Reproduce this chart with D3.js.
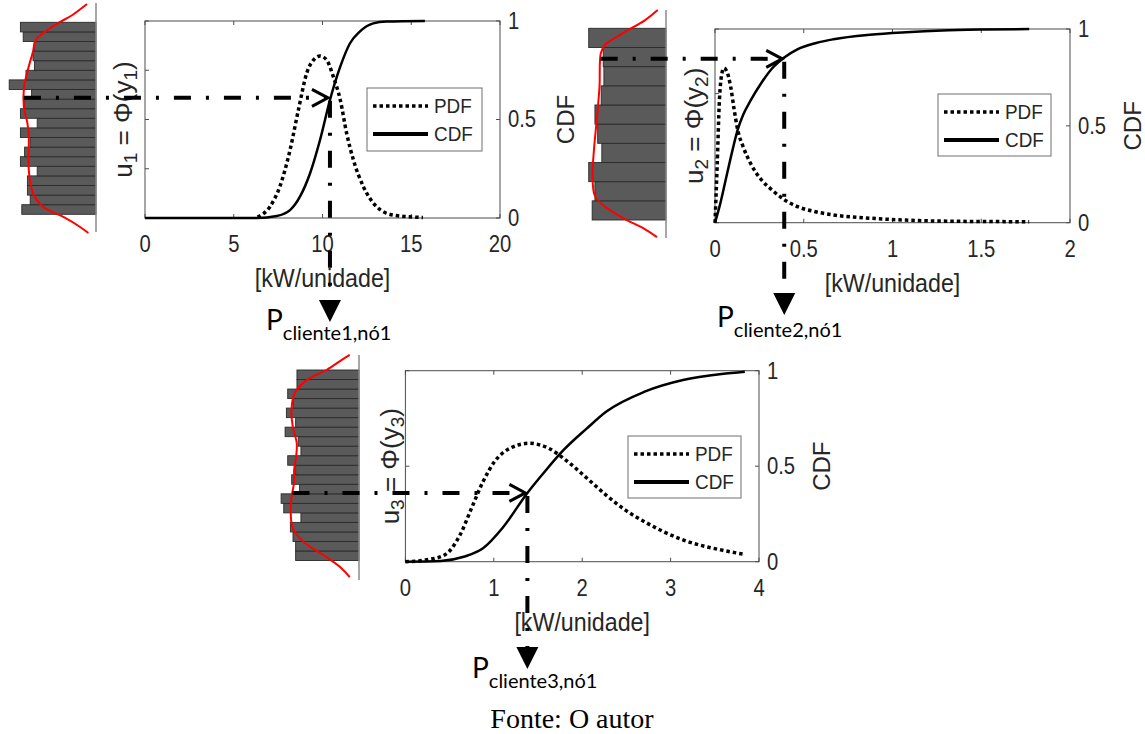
<!DOCTYPE html>
<html>
<head>
<meta charset="utf-8">
<script src="https://cdn.jsdelivr.net/npm/d3@7"></script>
<style>
  body { margin: 0; background: #fff; }
  svg { display: block; }
</style>
</head>
<body>
<svg id="fig" width="1145" height="734"></svg>
<script>
// ---------------- Customer 1 ----------------
const p1XTicks = [0, 5, 10, 15, 20];
const p1CdfX = [0, 6.34, 7.42, 8.17, 8.73, 9.3, 9.86, 10.42, 11.0, 11.55, 12.1, 12.86, 13.6, 15.77];
const p1CdfY = [0, 0, 0.01, 0.04, 0.108, 0.227, 0.396, 0.599, 0.768, 0.887, 0.946, 0.988, 0.997, 1.0];
const p1PdfX = [6.34, 7.04, 7.6, 8.17, 8.64, 9.11, 9.58, 9.86, 10.23, 10.61, 11.0, 11.36, 11.74, 12.3, 13.05, 13.99, 15.66];
const p1PdfY = [0.002, 0.023, 0.064, 0.138, 0.219, 0.294, 0.324, 0.329, 0.321, 0.287, 0.24, 0.172, 0.118, 0.064, 0.023, 0.006, 0.001];
// histogram of u1 (bins from u = 0 up to u = 1)
const p1Hist = [53, 47, 49, 49, 42, 54, 51, 47, 54, 42, 54, 51, 46, 62, 50, 44, 45, 44, 52, 54];
const p1KdeU = [-0.097, -0.066, -0.014, 0.038, 0.111, 0.231, 0.403, 0.475, 0.554, 0.658, 0.743, 0.847, 0.908, 0.96, 1.003, 1.038, 1.095];
const p1KdeD = [0.11, 0.23, 0.47, 0.76, 0.91, 0.97, 0.97, 0.99, 1.04, 1.04, 0.99, 0.91, 0.87, 0.70, 0.51, 0.34, 0.13];
const p1Sample = { u: 0.61, x: 10.42 };

// ---------------- Customer 2 ----------------
const p2XTicks = [0, 0.5, 1, 1.5, 2];
const p2CdfX = [0, 0.03, 0.06, 0.1, 0.128, 0.16, 0.2, 0.26, 0.32, 0.39, 0.464, 0.57, 0.668, 0.873, 1.077, 1.28, 1.5, 1.77];
const p2CdfY = [0, 0.1, 0.22, 0.38, 0.48, 0.56, 0.63, 0.72, 0.795, 0.853, 0.895, 0.928, 0.947, 0.97, 0.983, 0.992, 0.997, 1.0];
const p2PdfX = [0, 0.012, 0.025, 0.036, 0.05, 0.067, 0.088, 0.108, 0.128, 0.158, 0.2, 0.261, 0.322, 0.383, 0.464, 0.566, 0.668, 0.873, 1.077, 1.28, 1.77];
const p2PdfY = [0, 1.74, 3.8, 4.53, 4.79, 4.68, 4.22, 3.5, 2.87, 2.36, 1.84, 1.33, 1.01, 0.74, 0.5, 0.34, 0.24, 0.14, 0.08, 0.05, 0.03];
const p2Hist = [107, 103, 112, 93, 99, 103, 94, 90, 91, 112];
const p2KdeU = [-0.089, -0.042, 0.01, 0.078, 0.13, 0.235, 0.365, 0.522, 0.694, 0.871, 0.913, 0.975, 1.043, 1.095];
const p2KdeD = [0.13, 0.33, 0.62, 0.91, 1.03, 1.06, 1.04, 1.0, 0.96, 0.94, 0.88, 0.62, 0.30, 0.12];
const p2Sample = { u: 0.846, x: 0.39 };

// ---------------- Customer 3 ----------------
const p3XTicks = [0, 1, 2, 3, 4];
const p3CdfX = [0, 0.4, 0.66, 0.878, 1.096, 1.38, 1.575, 1.79, 2.053, 2.27, 2.706, 3.14, 3.576, 3.84];
const p3CdfY = [0, 0.004, 0.026, 0.07, 0.175, 0.36, 0.471, 0.585, 0.698, 0.785, 0.89, 0.951, 0.983, 0.995];
const p3PdfX = [0, 0.226, 0.443, 0.618, 0.748, 0.878, 1.009, 1.183, 1.4, 1.619, 1.836, 2.054, 2.27, 2.489, 2.706, 3.14, 3.576, 3.816];
const p3PdfY = [0, 0.009, 0.035, 0.14, 0.28, 0.419, 0.524, 0.594, 0.62, 0.594, 0.524, 0.437, 0.349, 0.27, 0.209, 0.114, 0.061, 0.04];
const p3Hist = [48, 48, 50, 52, 44, 57, 59, 45, 51, 48, 54, 44, 46, 56, 48, 55, 50, 54, 47, 47];
const p3KdeU = [-0.087, -0.033, 0.029, 0.099, 0.169, 0.239, 0.328, 0.412, 0.475, 0.545, 0.615, 0.702, 0.79, 0.879, 0.947, 1.0, 1.053, 1.079];
const p3KdeD = [0.14, 0.29, 0.54, 0.84, 1.0, 1.03, 1.02, 0.98, 0.98, 0.95, 0.94, 1.0, 1.02, 0.97, 0.79, 0.49, 0.26, 0.14];
const p3Sample = { u: 0.36, x: 1.38 };

const cdfTicks = [0, 0.5, 1];
const legendNames = ['PDF', 'CDF'];

// ---------------- layout ----------------
const panels = [
  {
    xMax: 20, xTicks: p1XTicks, pdfMax: 0.4, pdfTicks: [0, 0.1, 0.2, 0.3, 0.4],
    cdfX: p1CdfX, cdfY: p1CdfY, pdfX: p1PdfX, pdfY: p1PdfY,
    hist: p1Hist, kdeU: p1KdeU, kdeD: p1KdeD, sample: p1Sample, idx: '1',
    box: { l: 145, r: 500, t: 21, b: 218 },
    h: { base: 96, top: 22.3, bottom: 214.3, px: 1.4, lineTop: 3, lineBottom: 232 },
    legend: { x: 367, y: 88, w: 115, h: 63 },
    uLabelX: 123, cdfLabelX: 565, markerTop: 300, pLabel: { x: 266, y: 330 }
  },
  {
    xMax: 2, xTicks: p2XTicks, pdfMax: 6, pdfTicks: [0, 2, 4, 6],
    cdfX: p2CdfX, cdfY: p2CdfY, pdfX: p2PdfX, pdfY: p2PdfY,
    hist: p2Hist, kdeU: p2KdeU, kdeD: p2KdeD, sample: p2Sample, idx: '2',
    box: { l: 715, r: 1070, t: 29, b: 222.7 },
    h: { base: 666, top: 28.3, bottom: 220, px: 0.69, lineTop: 10, lineBottom: 238 },
    legend: { x: 938, y: 94, w: 113, h: 62 },
    uLabelX: 694, cdfLabelX: 1132, markerTop: 293, pLabel: { x: 717, y: 327 }
  },
  {
    xMax: 4, xTicks: p3XTicks, pdfMax: 1, pdfTicks: [0, 0.5, 1],
    cdfX: p3CdfX, cdfY: p3CdfY, pdfX: p3PdfX, pdfY: p3PdfY,
    hist: p3Hist, kdeU: p3KdeU, kdeD: p3KdeD, sample: p3Sample, idx: '3',
    box: { l: 405.4, r: 759, t: 370.7, b: 561.7 },
    h: { base: 359, top: 370, bottom: 560.5, px: 1.32, lineTop: 355, lineBottom: 580 },
    legend: { x: 628, y: 436, w: 113, h: 62 },
    uLabelX: 390, cdfLabelX: 821, markerTop: 647, pLabel: { x: 472, y: 678 }
  }
];

const AXFONT = "'Liberation Sans', Arial, Helvetica, sans-serif";
const svg = d3.select('#fig');
const fmt = d3.format('~g');

// text with a slight horizontal squeeze, as the exported axes fonts are narrow
function label(parent, x, y, str, size, opts = {}) {
  const sx = opts.sx || 1;
  const rot = opts.rotate ? ' rotate(-90)' : '';
  return parent.append('text')
    .attr('transform', `translate(${x},${y})${rot} scale(${sx},1)`)
    .attr('text-anchor', opts.anchor || 'middle')
    .attr('dominant-baseline', 'central')
    .attr('font-family', AXFONT)
    .attr('font-size', size)
    .attr('fill', '#262626')
    .text(str);
}

function drawPanel(p) {
  const g = svg.append('g');
  const { box, h } = p;

  const x = d3.scaleLinear().domain([0, p.xMax]).range([box.l, box.r]);
  const yR = d3.scaleLinear().domain([0, 1]).range([box.b, box.t]);
  const yL = d3.scaleLinear().domain([0, p.pdfMax]).range([box.b, box.t]);

  // ---- histogram of the uniform samples, drawn sideways ----
  const n = p.hist.length;
  const total = d3.sum(p.hist);
  const uScale = d3.scaleLinear().domain([0, 1]).range([h.bottom, h.top]);
  const cScale = d3.scaleLinear().domain([0, 100]).range([h.base, h.base - 100 * h.px]);
  const hg = g.append('g');
  hg.selectAll('rect').data(p.hist).join('rect')
    .attr('x', d => cScale(d))
    .attr('y', (d, i) => uScale((i + 1) / n))
    .attr('width', d => h.base - cScale(d))
    .attr('height', (d, i) => uScale(i / n) - uScale((i + 1) / n))
    .attr('fill', '#5a5a5a')
    .attr('stroke', '#2b2b2b')
    .attr('stroke-width', 0.9);
  hg.append('line')
    .attr('x1', h.base).attr('x2', h.base)
    .attr('y1', h.lineTop).attr('y2', h.lineBottom)
    .attr('stroke', '#8a8a8a').attr('stroke-width', 1.5);
  // kernel density estimate (expected count per bin)
  const kdePts = p.kdeU.map((u, i) => [cScale(p.kdeD[i] * total / n), uScale(u)]);
  hg.append('path')
    .attr('d', d3.line().curve(d3.curveCatmullRom)(kdePts))
    .attr('fill', 'none').attr('stroke', '#ff0000').attr('stroke-width', 2);

  // ---- axes box ----
  g.append('rect')
    .attr('x', box.l).attr('y', box.t)
    .attr('width', box.r - box.l).attr('height', box.b - box.t)
    .attr('fill', 'none').attr('stroke', '#4d4d4d').attr('stroke-width', 1);

  const tickLen = 4;
  const ax = g.append('g').attr('stroke', '#4d4d4d').attr('stroke-width', 1);
  p.xTicks.forEach(t => {
    ax.append('line').attr('x1', x(t)).attr('x2', x(t)).attr('y1', box.b).attr('y2', box.b - tickLen);
    ax.append('line').attr('x1', x(t)).attr('x2', x(t)).attr('y1', box.t).attr('y2', box.t + tickLen);
  });
  cdfTicks.forEach(t => {
    ax.append('line').attr('x1', box.r).attr('x2', box.r - tickLen).attr('y1', yR(t)).attr('y2', yR(t));
  });
  p.pdfTicks.forEach(t => {
    ax.append('line').attr('x1', box.l).attr('x2', box.l + tickLen).attr('y1', yL(t)).attr('y2', yL(t));
  });

  const tx = g.append('g');
  p.xTicks.forEach(t => label(tx, x(t), box.b + 26, fmt(t), 23, { sx: 0.88 }));
  cdfTicks.forEach(t => label(tx, box.r + 8, yR(t), fmt(t), 23, { sx: 0.88, anchor: 'start' }));
  label(tx, (box.l + box.r) / 2, box.b + 60, '[kW/unidade]', 25, { sx: 0.93 });
  label(tx, p.cdfLabelX, (box.t + box.b) / 2, 'CDF', 24, { rotate: true });

  const ul = tx.append('text')
    .attr('transform', `translate(${p.uLabelX},${(box.t + box.b) / 2}) rotate(-90)`)
    .attr('text-anchor', 'middle').attr('dominant-baseline', 'central')
    .attr('font-family', AXFONT).attr('fill', '#262626')
    .attr('font-size', 26);
  ul.append('tspan').text('u');
  ul.append('tspan').attr('font-size', 19).attr('dy', 7).text(p.idx);
  ul.append('tspan').attr('dy', -7).text(' = \u03A6(y');
  ul.append('tspan').attr('font-size', 19).attr('dy', 7).text(p.idx);
  ul.append('tspan').attr('dy', -7).text(')');

  // ---- curves ----
  const pdfLine = d3.line().curve(d3.curveMonotoneX).x(d => x(d[0])).y(d => yL(d[1]));
  const cdfLine = d3.line().curve(d3.curveMonotoneX).x(d => x(d[0])).y(d => yR(d[1]));
  g.append('path')
    .attr('d', pdfLine(p.pdfX.map((v, i) => [v, p.pdfY[i]])))
    .attr('fill', 'none').attr('stroke', '#000').attr('stroke-width', 3.5)
    .attr('stroke-dasharray', '3.5,3');
  g.append('path')
    .attr('d', cdfLine(p.cdfX.map((v, i) => [v, p.cdfY[i]])))
    .attr('fill', 'none').attr('stroke', '#000').attr('stroke-width', 2.5);

  // ---- legend ----
  const L = p.legend;
  const lg = g.append('g');
  lg.append('rect').attr('x', L.x).attr('y', L.y).attr('width', L.w).attr('height', L.h)
    .attr('fill', '#fff').attr('stroke', '#6e6e6e').attr('stroke-width', 1);
  legendNames.forEach((name, i) => {
    const yy = L.y + 18 + i * 28;
    lg.append('line')
      .attr('x1', L.x + 6).attr('x2', L.x + 61).attr('y1', yy).attr('y2', yy)
      .attr('stroke', '#000').attr('stroke-width', i === 0 ? 3.5 : 4)
      .attr('stroke-dasharray', i === 0 ? '3.5,3' : null);
    label(lg, L.x + 67, yy, name, 21, { sx: 0.9, anchor: 'start' });
  });

  // ---- sampling arrows: u -> inverse CDF -> power value ----
  const kdeAt = d3.scaleLinear().domain(p.kdeU).range(p.kdeD);
  const uy = yR(p.sample.u);
  const vx = x(p.sample.x);
  const tipX = vx - 2;
  const startX = cScale(kdeAt(p.sample.u) * total / n);
  const dashDot = '17,15,3,15';
  const ag = g.append('g').attr('stroke', '#000').attr('fill', 'none');
  ag.append('line')
    .attr('x1', startX).attr('x2', tipX - 2).attr('y1', uy).attr('y2', uy)
    .attr('stroke-width', 4).attr('stroke-dasharray', dashDot);
  ag.append('path')
    .attr('d', `M${tipX - 16},${uy - 8.5} L${tipX},${uy} L${tipX - 16},${uy + 8.5}`)
    .attr('stroke-width', 3);
  ag.append('line')
    .attr('x1', vx).attr('x2', vx).attr('y1', uy + 3).attr('y2', p.markerTop)
    .attr('stroke-width', 4).attr('stroke-dasharray', dashDot);
  g.append('path')
    .attr('d', `M${vx - 11},${p.markerTop} L${vx + 11},${p.markerTop} L${vx},${p.markerTop + 22} Z`)
    .attr('fill', '#000');

  const pl = g.append('text')
    .attr('x', p.pLabel.x).attr('y', p.pLabel.y)
    .attr('font-family', "Lato, 'Open Sans', sans-serif").attr('fill', '#000');
  pl.append('tspan').attr('font-size', 28).text('P');
  pl.append('tspan').attr('font-size', 20).attr('dy', 10).text(`cliente${p.idx},nó1`);
}

panels.forEach(drawPanel);

svg.append('text')
  .attr('x', 572).attr('y', 718)
  .attr('text-anchor', 'middle').attr('dominant-baseline', 'central')
  .attr('font-family', "'Liberation Serif', 'Times New Roman', serif")
  .attr('font-size', 28).attr('fill', '#000')
  .text('Fonte: O autor');
</script>
</body>
</html>
